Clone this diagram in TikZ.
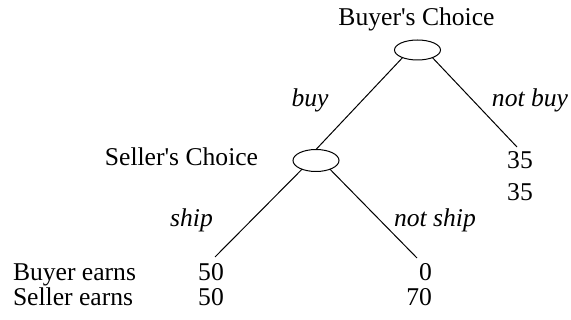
\documentclass[tikz,border=0pt]{standalone}
\usepackage{fontspec}
\setmainfont{Liberation Serif}
\usetikzlibrary{shapes.geometric}
\begin{document}
\begin{tikzpicture}[x=1pt,y=-1pt,
  lbl/.style={font=\fontsize{25.6}{30}\selectfont, inner sep=0pt, outer sep=0pt},
  act/.style={font=\fontsize{25.6}{30}\selectfont\itshape, inner sep=0pt, outer sep=0pt},
  choice/.style={ellipse, draw, line width=1pt, minimum width=46pt, minimum height=20pt, inner sep=0pt, outer sep=0pt},
  edge/.style={line width=1pt}]
\useasboundingbox (0,0) rectangle (571,320);
% decision nodes
\node[choice] (buyer) at (417.5,50) {};
\node[choice, minimum height=22pt] (seller) at (316,160.5) {};
% titles
\node[lbl, anchor=base] (buyerT) at (416.5,26) {Buyer\textquotesingle s Choice};
\node[lbl, anchor=base] (sellerT) at (181.5,166) {Seller\textquotesingle s Choice};
% actions
\node[act, anchor=base] (buy) at (310,107) {buy};
\node[act, anchor=base] (notbuy) at (530,107) {not buy};
\node[act, anchor=base] (ship) at (191.5,227) {ship};
\node[act, anchor=base] (notship) at (435,227) {not ship};
% payoffs
\node[lbl, anchor=base] (nb1) at (520,169) {35};
\node[lbl, anchor=base] (nb2) at (520,201) {35};
\node[lbl, anchor=base west] (be) at (13,281) {Buyer earns};
\node[lbl, anchor=base west] (se) at (13,306) {Seller earns};
\node[lbl, anchor=base] (s1) at (211,281) {50};
\node[lbl, anchor=base] (s2) at (211,306) {50};
\node[lbl, anchor=base east] (ns1) at (432,281) {0};
\node[lbl, anchor=base east] (ns2) at (432,306) {70};
% leaf ends
\coordinate (endNB) at (517,147);
\coordinate (endS) at (215,257);
\coordinate (endNS) at (417,258);
% edges
\draw[edge] (buyer.207) -- (seller.north);
\draw[edge] (buyer.333) -- (endNB);
\draw[edge] (seller.212) -- (endS);
\draw[edge] (seller.328) -- (endNS);
\end{tikzpicture}
\end{document}
